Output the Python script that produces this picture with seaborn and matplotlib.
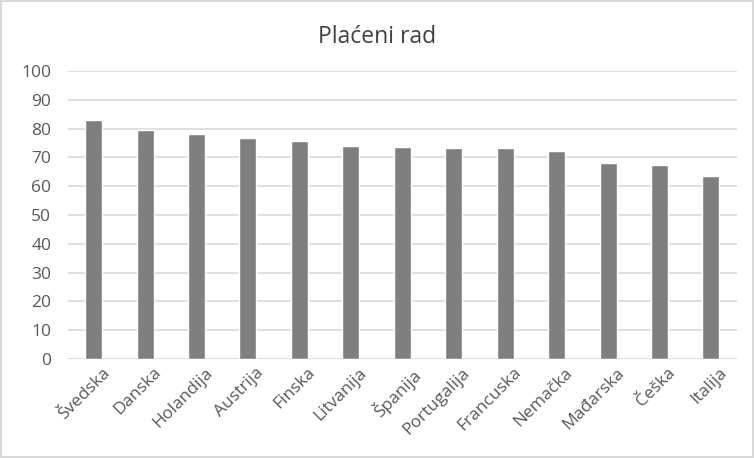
import pandas as pd
import numpy as np
import matplotlib.pyplot as plt
import matplotlib.transforms as mtransforms
import seaborn as sns

# Data
countries = ['Švedska', 'Danska', 'Holandija', 'Austrija', 'Finska', 'Litvanija',
             'Španija', 'Portugalija', 'Francuska', 'Nemačka', 'Mađarska', 'Češka', 'Italija']
values = [82.9, 79.4, 78.3, 76.8, 75.6, 74.1, 73.7, 73.2, 73.2, 72.4, 68.2, 67.5, 63.6]
yticks = [0, 10, 20, 30, 40, 50, 60, 70, 80, 90, 100]

df = pd.DataFrame({'country': countries, 'value': values})

sns.set_style('white')
plt.rcParams['font.family'] = ['Open Sans', 'DejaVu Sans']

fig = plt.figure(figsize=(7.54, 4.58), dpi=100, edgecolor='#d9d9d9', linewidth=1.5)
ax = fig.add_axes([0.090, 0.216, 0.887, 0.629])

sns.barplot(data=df, x='country', y='value', color='#7f7f7f', saturation=1,
            width=0.33, ax=ax, zorder=3)

ax.set_ylim(0, 100)
ax.set_xlim(-0.5, len(countries) - 0.5)
ax.set_yticks(yticks)
ax.yaxis.grid(True, color='#d9d9d9', linewidth=1.2, zorder=0)
ax.set_axisbelow(True)
for s in ['top', 'right', 'left', 'bottom']:
    ax.spines[s].set_visible(False)
ax.axhline(0, color='#d9d9d9', linewidth=1.2, zorder=1)

ax.set_xlabel('')
ax.set_ylabel('')
ax.tick_params(axis='both', length=0, labelsize=12.5, labelcolor='#595959')
ax.tick_params(axis='y', pad=12)
ax.tick_params(axis='x', pad=4)
plt.setp(ax.get_xticklabels(), rotation=45, ha='right', rotation_mode='anchor')
# nudge rotated labels right so they end near the bar, like the original
shift = mtransforms.ScaledTranslation(8 / 100, 0, fig.dpi_scale_trans)
for lbl in ax.get_xticklabels():
    lbl.set_transform(lbl.get_transform() + shift)

fig.suptitle('Plaćeni rad', x=0.5, y=0.945, fontsize=16.5, color='#404040')

fig.savefig('out.png', dpi=100, edgecolor=fig.get_edgecolor())
